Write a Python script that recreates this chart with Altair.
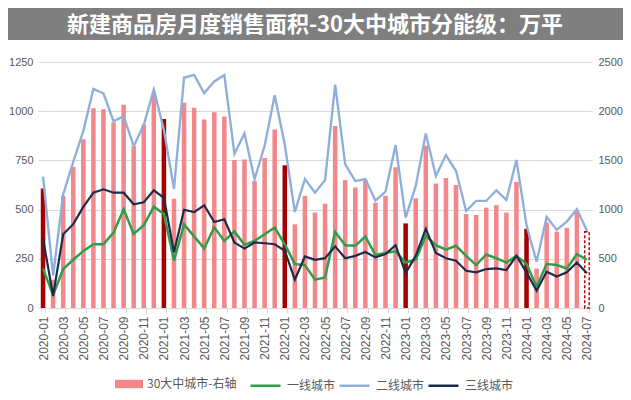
import altair as alt
import pandas as pd

title_text = "新建商品房月度销售面积-30大中城市分能级：万平"
months = [f"{y}-{m:02d}" for y in range(2020, 2025) for m in range(1, 13)][:55]

bar_name = "30大中城市-右轴"
bar30 = [1215, 287, 1140, 1435, 1715, 2030, 2020, 1885, 2065, 1645, 1865, 2190,
         1920, 1111, 2085, 2035, 1915, 1990, 1945, 1505, 1510, 1290, 1525, 1815,
         1450, 850, 1140, 970, 1060, 1850, 1300, 1225, 1300, 1070, 1140, 1430,
         860, 1115, 1650, 1265, 1320, 1250, 955, 945, 1020, 1045, 970, 1280,
         805, 400, 870, 775, 815, 980, 775]

series_names = ["一线城市", "二线城市", "三线城市"]
tier1 = [200, 66, 198, 245, 290, 324, 324, 383, 502, 376, 421, 515,
         478, 241, 425, 364, 303, 410, 341, 389, 321, 341, 375, 409,
         324, 223, 218, 144, 155, 387, 319, 316, 363, 269, 279, 288,
         231, 245, 367, 319, 296, 316, 265, 218, 272, 253, 231, 265,
         223, 108, 223, 218, 201, 274, 245]
tier2 = [667, 165, 578, 742, 899, 1113, 1090, 949, 975, 822, 930, 1110,
         905, 605, 1170, 1184, 1092, 1151, 1184, 784, 887, 655, 824, 1081,
         830, 488, 655, 586, 650, 1135, 730, 645, 655, 546, 591, 828,
         459, 620, 887, 671, 777, 696, 493, 544, 544, 598, 549, 752,
         420, 235, 463, 397, 439, 502, 392]
tier3 = [353, 62, 375, 426, 514, 586, 603, 586, 586, 527, 537, 598,
         560, 283, 499, 487, 522, 437, 451, 333, 302, 333, 329, 324,
         291, 144, 262, 245, 253, 313, 253, 265, 285, 257, 274, 319,
         177, 265, 402, 280, 253, 240, 189, 181, 198, 201, 193, 265,
         181, 88, 184, 160, 181, 231, 177]

left_ticks = [0, 250, 500, 750, 1000, 1250]
right_ticks = [0, 500, 1000, 1500, 2000, 2500]

bar_color = "#F4878A"
jan_color = "#A50000"
dash_color = "#C00000"
line_colors = ["#2E9E48", "#8EAEDB", "#1D2B4C"]
line_widths = [2.5, 2.2, 2.5]
text_color = "#595959"
grid_color = "#D9D9D9"
num_font = "Liberation Sans"
cjk_font = "Noto Sans CJK SC"

W, H = 554, 246

kinds = []
for i, m in enumerate(months):
    if i == len(months) - 1:
        kinds.append("last")
    elif m.endswith("-01"):
        kinds.append("jan")
    else:
        kinds.append("normal")
bar_df = pd.DataFrame({"month": months, "value": bar30, "series": bar_name, "kind": kinds})

line_df = pd.DataFrame({
    "month": months * 3,
    "value": tier1 + tier2 + tier3,
    "series": [s for s in series_names for _ in months],
})

x_enc = alt.X(
    "month:O", sort=months,
    scale=alt.Scale(type="band", paddingInner=0.55, paddingOuter=0.275),
    axis=alt.Axis(title=None, values=months[::2], labelAngle=270, labelFont=num_font,
                  labelFontSize=12, labelColor=text_color, domainColor=grid_color,
                  tickColor=grid_color, tickBand="extent", tickSize=5, labelPadding=3),
)

y_bar = alt.Y("value:Q", scale=alt.Scale(domain=[0, 2500], nice=False),
              axis=alt.Axis(orient="right", values=right_ticks, grid=False, title=None,
                            format="d", domain=False, ticks=False, labelFont=num_font,
                            labelFontSize=11, labelColor=text_color, labelPadding=6))

base_bar = alt.Chart(bar_df)
bars_normal = base_bar.mark_bar().encode(
    x=x_enc, y=y_bar,
    fill=alt.Fill("series:N", scale=alt.Scale(domain=[bar_name], range=[bar_color]),
                  legend=alt.Legend(title=None, orient="none", legendX=77, legendY=308,
                                    direction="horizontal",
                                    symbolType="M-1,-0.3H1V0.3H-1Z", symbolSize=784,
                                    symbolStrokeWidth=0, labelFont=cjk_font, labelFontSize=12,
                                    labelColor=text_color, labelOffset=4)),
).transform_filter(alt.datum.kind == "normal")
bars_jan = base_bar.mark_bar(color=jan_color).encode(x=x_enc, y=y_bar).transform_filter(
    alt.datum.kind == "jan")
bars_last = base_bar.mark_bar(fill="white", stroke=dash_color, strokeWidth=1.5,
                              strokeDash=[3, 2]).encode(x=x_enc, y=y_bar).transform_filter(
    alt.datum.kind == "last")
bar_layer = alt.layer(bars_normal, bars_jan, bars_last)

lines = alt.Chart(line_df).mark_line().encode(
    x=x_enc,
    y=alt.Y("value:Q", scale=alt.Scale(domain=[0, 1250], nice=False),
            axis=alt.Axis(orient="left", values=left_ticks, grid=True, gridColor=grid_color,
                          title=None, format="d", domain=False, ticks=False, labelFont=num_font,
                          labelFontSize=11, labelColor=text_color, labelPadding=5)),
    stroke=alt.Stroke("series:N", scale=alt.Scale(domain=series_names, range=line_colors),
                      legend=alt.Legend(title=None, orient="none", legendX=211, legendY=307,
                                        direction="horizontal", symbolType="stroke",
                                        symbolSize=900, symbolStrokeWidth=2.5,
                                        labelFont=cjk_font, labelFontSize=12,
                                        labelColor=text_color, labelOffset=5,
                                        columnPadding=-2)),
    strokeWidth=alt.StrokeWidth("series:N", scale=alt.Scale(domain=series_names, range=line_widths),
                                legend=None),
)

title_df = pd.DataFrame({"t": [title_text]})
band = alt.Chart(title_df).mark_rect(color="#7F7F7F").encode(
    x=alt.value(-30), x2=alt.value(585), y=alt.value(-54), y2=alt.value(-22))
title = alt.Chart(title_df).mark_text(color="white", font=cjk_font, fontSize=22,
                                      fontWeight="bold", align="center",
                                      baseline="middle").encode(
    x=alt.value(277), y=alt.value(-37), text="t:N")

chart = alt.layer(bar_layer, lines, band, title).resolve_scale(
    y="independent", fill="independent", stroke="independent"
).properties(
    width=W, height=H,
    autosize=alt.AutoSizeParams(type="none"),
    padding={"left": 30, "top": 54, "right": 31, "bottom": 84},
).configure_view(stroke=None)

chart.save("out.html", embed_options={"renderer": "svg", "actions": False})
